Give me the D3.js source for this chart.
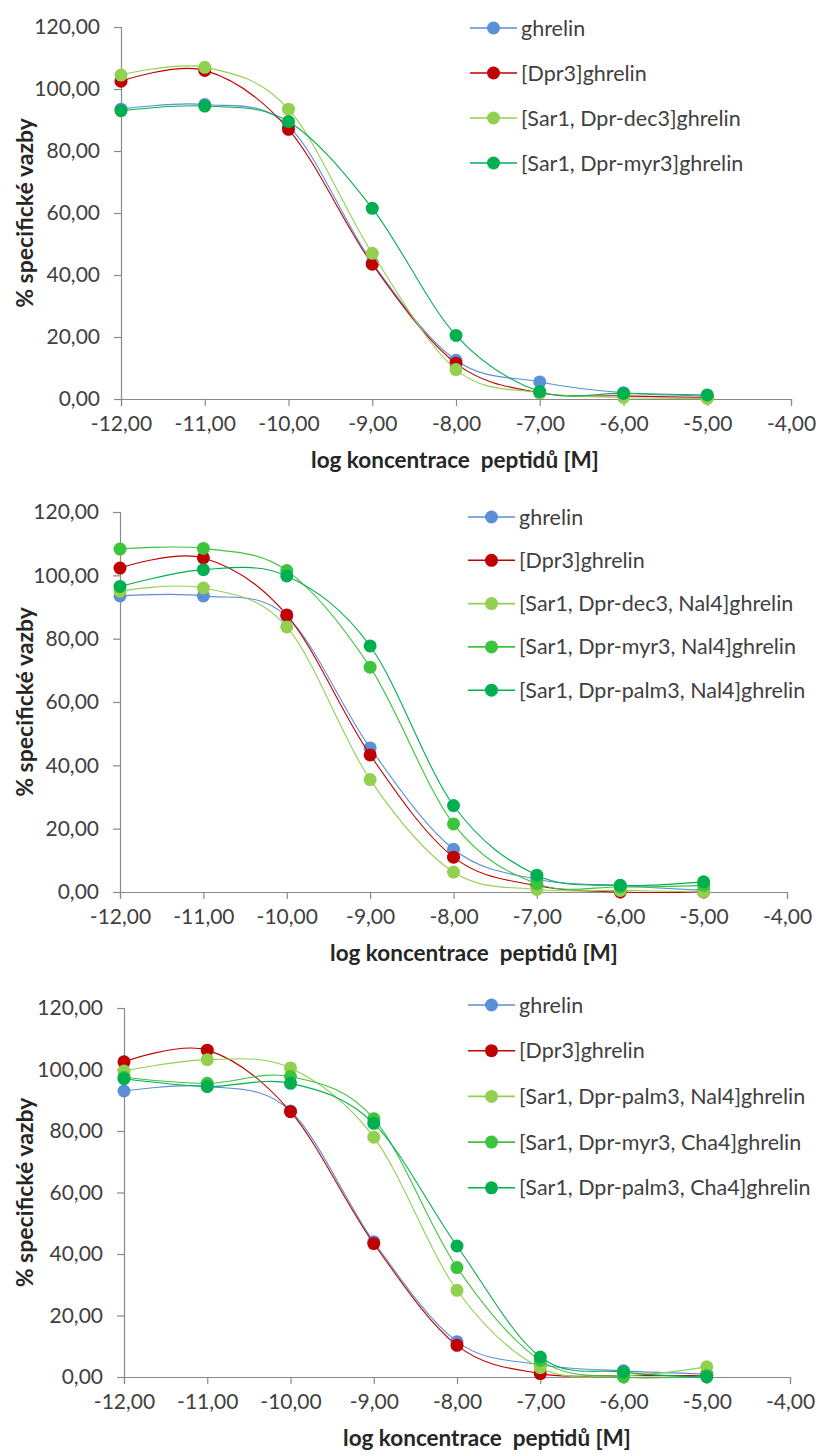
<!DOCTYPE html>
<html>
<head>
<meta charset="utf-8">
<script src="https://cdn.jsdelivr.net/npm/d3@7/dist/d3.min.js"></script>
<style>
body { margin: 0; background: #fff; }
text { font-family: Lato, "Open Sans", sans-serif; }
</style>
</head>
<body>
<div id="chart"></div>
<script>
// shared axes
var xValues = [-12, -11, -10, -9, -8, -7, -6, -5];
var xTicks = [-12, -11, -10, -9, -8, -7, -6, -5, -4];
var yTicks = [0, 20, 40, 60, 80, 100, 120];
var xTitle = "log koncentrace\u00a0 peptidů [M]";
var yTitle = "% specifické vazby";

// panel 1
var names1 = ["ghrelin", "[Dpr3]ghrelin", "[Sar1, Dpr-dec3]ghrelin", "[Sar1, Dpr-myr3]ghrelin"];
var ghrelin1 = [93.5, 95, 88, 44, 12.5, 5.5, 2, 1];
var dpr1 = [102.5, 106, 87, 43.5, 11.5, 2, 1, 0.5];
var dec1 = [104.5, 107, 93.5, 47, 9.5, 2, 0.5, 0.2];
var myr1 = [93, 94.5, 89.5, 61.5, 20.5, 2.4, 1.8, 1.3];

// panel 2
var names2 = ["ghrelin", "[Dpr3]ghrelin", "[Sar1, Dpr-dec3, Nal4]ghrelin", "[Sar1, Dpr-myr3, Nal4]ghrelin", "[Sar1, Dpr-palm3, Nal4]ghrelin"];
var ghrelin2 = [93.5, 93.5, 87, 45.5, 13.5, 4, 2, 0.5];
var dpr2 = [102.3, 105.5, 87.5, 43.3, 11, 2, 0, 0];
var dec2 = [95, 96, 83.7, 35.5, 6.3, 0.8, 0.5, 0];
var myr2 = [108.3, 108.5, 101.5, 71, 21.5, 2.6, 1.6, 2.1];
var palm2 = [96.5, 101.8, 99.8, 77.7, 27.3, 5.3, 2.1, 3.2];

// panel 3
var names3 = ["ghrelin", "[Dpr3]ghrelin", "[Sar1, Dpr-palm3, Nal4]ghrelin", "[Sar1, Dpr-myr3, Cha4]ghrelin", "[Sar1, Dpr-palm3, Cha4]ghrelin"];
var ghrelin3 = [93, 94.5, 86.5, 44, 11.5, 4, 2, 1];
var dpr3 = [102.5, 106.3, 86.3, 43.4, 10.3, 1.1, 0.5, 0.5];
var palmNal3 = [99.5, 103.2, 100.5, 78, 28.2, 3, 0.5, 3.3];
var myrCha3 = [97.5, 95.5, 97.7, 84, 35.6, 5.4, 0, 0.5];
var palmCha3 = [97, 94.5, 95.5, 82.5, 42.6, 6.5, 1.6, 0];

var blue = "#5b8fd6", red = "#c00000", light = "#92d050", mid = "#3cc43c", dark = "#00b050";

var panels = [
	{ names: names1, series: [ghrelin1, dpr1, dec1, myr1], colors: [blue, red, light, dark],
	  top: 27, bottom: 399, left: 121, right: 791, legendY: 28, legendStep: 45, legendX: 470, titleX: 455 },
	{ names: names2, series: [ghrelin2, dpr2, dec2, myr2, palm2], colors: [blue, red, light, mid, dark],
	  top: 512, bottom: 892, left: 120, right: 787, legendY: 517, legendStep: 43.3, legendX: 468, titleX: 474 },
	{ names: names3, series: [ghrelin3, dpr3, palmNal3, myrCha3, palmCha3], colors: [blue, red, light, mid, dark],
	  top: 1008, bottom: 1377, left: 124, right: 790, legendY: 1005, legendStep: 45.7, legendX: 468, titleX: 487 }
];

var locale = d3.formatLocale({ decimal: ",", thousands: " ", grouping: [3], currency: ["", ""], minus: "-" });
var fmt = locale.format(".2f");

var svg = d3.select("#chart").append("svg")
	.attr("width", 822)
	.attr("height", 1456);
svg.append("rect").attr("width", 822).attr("height", 1456).attr("fill", "#fff");

panels.forEach(function(p) {
	var x = d3.scaleLinear().domain([-12, -4]).range([p.left, p.right]);
	var y = d3.scaleLinear().domain([0, 120]).range([p.bottom, p.top]);
	var g = svg.append("g");

	var yAxis = g.append("g")
		.attr("transform", "translate(" + p.left + ",0)")
		.call(d3.axisLeft(y).tickValues(yTicks).tickFormat(fmt).tickSizeOuter(0).tickSize(7).tickPadding(14));
	var xAxis = g.append("g")
		.attr("transform", "translate(0," + p.bottom + ")")
		.call(d3.axisBottom(x).tickValues(xTicks).tickFormat(fmt).tickSizeOuter(0).tickSize(7).tickPadding(10));
	[xAxis, yAxis].forEach(function(a) {
		a.select(".domain").attr("stroke", "#8a8a8a").attr("stroke-width", 1.2);
		a.selectAll(".tick line").attr("stroke", "#8a8a8a").attr("stroke-width", 1.2);
		a.selectAll(".tick text").attr("fill", "#404040").style("font-size", "21px");
	});

	g.append("text")
		.attr("x", p.titleX)
		.attr("y", p.bottom + 69)
		.attr("text-anchor", "middle")
		.style("font-size", "22.5px")
		.style("font-weight", "bold")
		.attr("fill", "#262626")
		.text(xTitle);

	g.append("text")
		.attr("transform", "translate(33," + (p.top + p.bottom) / 2 + ") rotate(-90)")
		.attr("text-anchor", "middle")
		.style("font-size", "23px")
		.style("font-weight", "bold")
		.attr("fill", "#262626")
		.text(yTitle);

	var line = d3.line()
		.x(function(d, i) { return x(xValues[i]); })
		.y(function(d) { return y(d); })
		.curve(d3.curveCatmullRom.alpha(0));

	p.series.forEach(function(vals, si) {
		var sg = g.append("g");
		sg.append("path")
			.attr("d", line(vals))
			.attr("fill", "none")
			.attr("stroke", p.colors[si])
			.attr("stroke-width", 1.1);
		sg.selectAll("circle")
			.data(vals)
			.enter()
			.append("circle")
			.attr("cx", function(d, i) { return x(xValues[i]); })
			.attr("cy", function(d) { return y(d); })
			.attr("r", 6.5)
			.attr("fill", p.colors[si]);
	});

	// legend
	var lg = g.append("g");
	p.names.forEach(function(name, i) {
		var ly = p.legendY + i * p.legendStep;
		lg.append("line")
			.attr("x1", p.legendX).attr("x2", p.legendX + 47)
			.attr("y1", ly).attr("y2", ly)
			.attr("stroke", p.colors[i]).attr("stroke-width", 1.6);
		lg.append("circle")
			.attr("cx", p.legendX + 23.5).attr("cy", ly)
			.attr("r", 6.5).attr("fill", p.colors[i]);
		lg.append("text")
			.attr("x", p.legendX + 51)
			.attr("y", ly)
			.attr("dy", "0.35em")
			.style("font-size", "21.5px")
			.attr("fill", "#404040")
			.text(name);
	});
});
</script>
</body>
</html>
